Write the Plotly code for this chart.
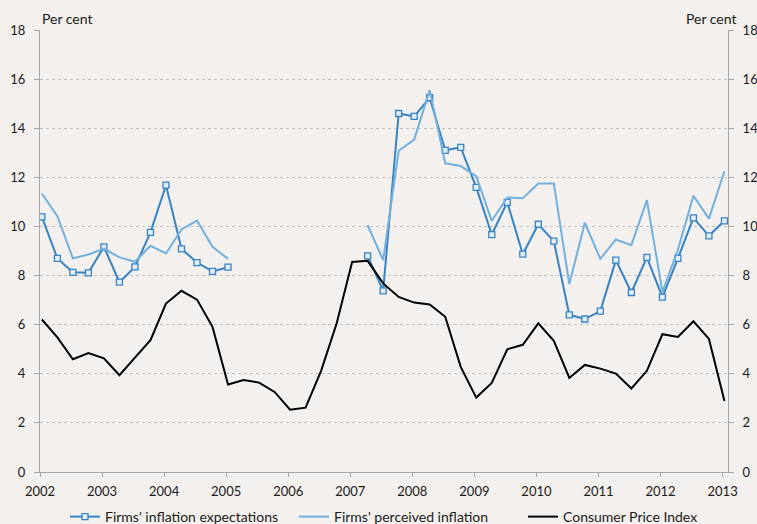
import plotly.graph_objects as go

# Quarterly observations, 2002 Q1 .. 2013 Q1
start_year = 2002
n_quarters = 45
quarters = [start_year + 0.03 + 0.25 * i for i in range(n_quarters)]

cpi = [6.21, 5.48, 4.59, 4.84, 4.63, 3.94, 4.66, 5.37, 6.86, 7.38, 7.02, 5.91, 3.56,
       3.75, 3.64, 3.26, 2.54, 2.62, 4.12, 6.05, 8.55, 8.60, 7.68, 7.13, 6.90, 6.82,
       6.32, 4.28, 3.03, 3.63, 5.00, 5.18, 6.05, 5.34, 3.83, 4.36, 4.21, 4.01, 3.40,
       4.12, 5.61, 5.50, 6.14, 5.42, 2.89]

N = None
expectations = [10.39, 8.70, 8.13, 8.11, 9.17, 7.73, 8.35, 9.76, 11.68, 9.09, 8.53, 8.17, 8.34,
                N, N, N, N, N, N, N, N,
                8.80, 7.38, 14.60, 14.48, 15.24, 13.10, 13.22, 11.59, 9.67, 10.98, 8.87,
                10.09, 9.40, 6.40, 6.23, 6.55, 8.63, 7.31, 8.74, 7.12, 8.70, 10.35, 9.62, 10.23]

perceived = [11.34, 10.42, 8.70, 8.86, 9.10, 8.74, 8.56, 9.21, 8.90, 9.88, 10.24, 9.17, 8.68,
             N, N, N, N, N, N, N, N,
             10.05, 8.63, 13.08, 13.54, 15.55, 12.57, 12.46, 12.05, 10.23, 11.18, 11.15,
             11.75, 11.75, 7.65, 10.15, 8.68, 9.47, 9.24, 11.07, 7.33, 9.05, 11.25, 10.32, 12.25]

year_ticks = list(range(2002, 2014))
year_labels = [str(y) for y in year_ticks]
y_ticks = list(range(0, 19, 2))

FONT = "Lato"
AXIS = "#A6A6A6"
TXT = "#1a1a1a"
BG = "#F3F0ED"

fig = go.Figure()
fig.add_trace(go.Scatter(
    x=quarters, y=expectations, name="Firms' inflation expectations",
    mode="lines+markers", connectgaps=False,
    line=dict(color="#3783C4", width=2),
    marker=dict(symbol="square", size=6, color="#E4EEF7",
                line=dict(color="#3783C4", width=1.3)),
))
fig.add_trace(go.Scatter(
    x=quarters, y=perceived, name="Firms' perceived inflation",
    mode="lines", connectgaps=False,
    line=dict(color="#72B0DE", width=2),
))
fig.add_trace(go.Scatter(
    x=quarters, y=cpi, name="Consumer Price Index", yaxis="y2",
    mode="lines", line=dict(color="#000000", width=2),
))

fig.update_layout(
    width=757, height=524,
    paper_bgcolor=BG, plot_bgcolor=BG,
    margin=dict(l=40, r=29, t=30, b=52, autoexpand=False),
    font=dict(family=FONT, size=13, color=TXT),
    showlegend=True,
    legend=dict(orientation="h", xref="container", yref="container",
                x=65 / 757, xanchor="left", y=23 / 524, yanchor="top",
                font=dict(family=FONT, size=14, color=TXT),
                itemwidth=30, entrywidth=184, entrywidthmode="pixels",
                bgcolor="rgba(0,0,0,0)", traceorder="normal"),
    xaxis=dict(range=[2002, 2013.087], tickvals=year_ticks, ticktext=year_labels,
               showgrid=False, zeroline=False, showline=True, linecolor=AXIS, linewidth=1,
               ticks="outside", ticklen=4, tickcolor=AXIS, automargin=False,
               ticklabelstandoff=3,
               tickfont=dict(family=FONT, size=13, color=TXT)),
    yaxis=dict(range=[0, 18], tickvals=y_ticks, showgrid=True, gridcolor="#C4C1BE",
               griddash="dot", gridwidth=1, zeroline=False, showline=True,
               linecolor=AXIS, linewidth=1, ticks="outside", ticklen=5, tickcolor=AXIS,
               automargin=False, ticklabelstandoff=6,
               tickfont=dict(family=FONT, size=13, color=TXT)),
    yaxis2=dict(range=[0, 18], tickvals=y_ticks, overlaying="y", side="right",
                showgrid=False, zeroline=False, showline=True, linecolor=AXIS, linewidth=1,
                ticks="outside", ticklen=5, tickcolor=AXIS, automargin=False,
                ticklabelstandoff=6,
                tickfont=dict(family=FONT, size=13, color=TXT)),
    annotations=[
        dict(text="Per cent", xref="paper", yref="paper", x=0, y=1, xanchor="left",
             yanchor="bottom", showarrow=False, xshift=0, yshift=1,
             font=dict(family=FONT, size=14, color=TXT)),
        dict(text="Per cent", xref="paper", yref="paper", x=1, y=1, xanchor="right",
             yanchor="bottom", showarrow=False, xshift=11, yshift=1,
             font=dict(family=FONT, size=14, color=TXT)),
    ],
)

fig.write_html(
    "out.html",
    config={"displayModeBar": False},
    post_script="document.body.style.margin='0';document.body.style.background='%s';" % BG,
)
